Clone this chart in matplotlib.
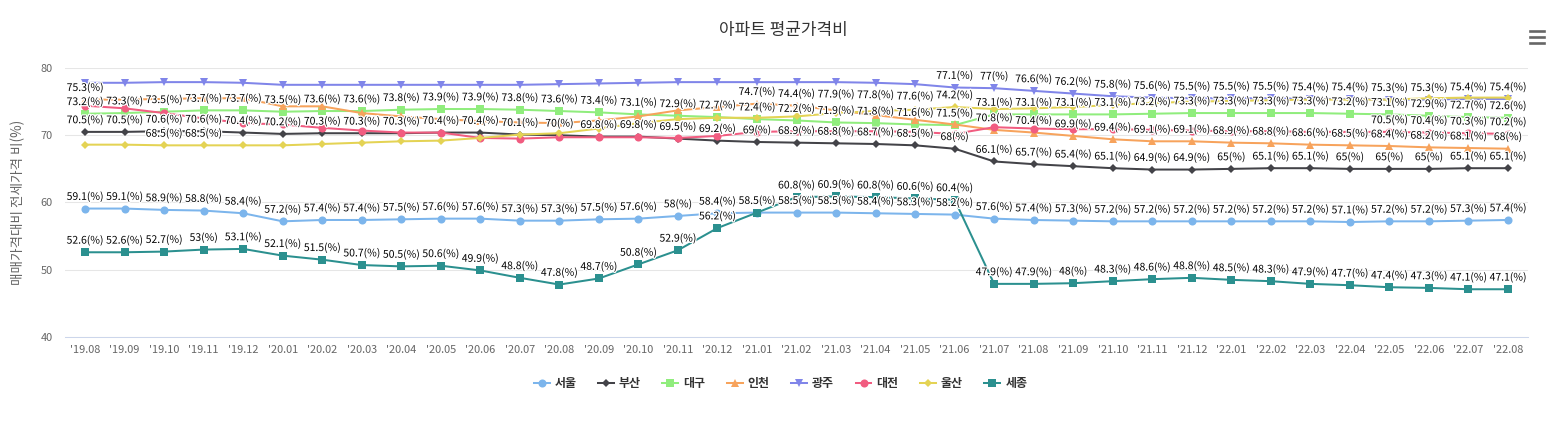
import matplotlib.pyplot as plt
from matplotlib import patheffects
from matplotlib.lines import Line2D

plt.rcParams['font.family'] = ['Noto Sans CJK KR', 'DejaVu Sans']

W, H = 1567, 424

months = ["'19.08", "'19.09", "'19.10", "'19.11", "'19.12",
          "'20.01", "'20.02", "'20.03", "'20.04", "'20.05", "'20.06",
          "'20.07", "'20.08", "'20.09", "'20.10", "'20.11", "'20.12",
          "'21.01", "'21.02", "'21.03", "'21.04", "'21.05", "'21.06",
          "'21.07", "'21.08", "'21.09", "'21.10", "'21.11", "'21.12",
          "'22.01", "'22.02", "'22.03", "'22.04", "'22.05", "'22.06",
          "'22.07", "'22.08"]

seoul = [59.1, 59.1, 58.9, 58.8, 58.4,
         57.2, 57.4, 57.4, 57.5, 57.6, 57.6, 57.3, 57.3, 57.5, 57.6, 58.0, 58.4,
         58.5, 58.5, 58.5, 58.4, 58.3, 58.2, 57.6, 57.4, 57.3, 57.2, 57.2, 57.2,
         57.2, 57.2, 57.2, 57.1, 57.2, 57.2, 57.3, 57.4]
busan = [70.5, 70.5, 70.6, 70.6, 70.4,
         70.2, 70.3, 70.3, 70.3, 70.4, 70.4, 70.1, 70.0, 69.8, 69.8, 69.5, 69.2,
         69.0, 68.9, 68.8, 68.7, 68.5, 68.0, 66.1, 65.7, 65.4, 65.1, 64.9, 64.9,
         65.0, 65.1, 65.1, 65.0, 65.0, 65.0, 65.1, 65.1]
daegu = [73.2, 73.3, 73.5, 73.7, 73.7,
         73.5, 73.6, 73.6, 73.8, 73.9, 73.9, 73.8, 73.6, 73.4, 73.1, 72.9, 72.7,
         72.4, 72.2, 71.9, 71.8, 71.6, 71.5, 73.1, 73.1, 73.1, 73.1, 73.2, 73.3,
         73.3, 73.3, 73.3, 73.2, 73.1, 72.9, 72.7, 72.6]
incheon = [75.3, 75.3, 75.4, 75.5, 75.5,
           74.3, 74.3, 73.3, 72.8, 72.4, 72.1, 71.9, 71.8, 72.2, 72.8, 73.7, 74.2,
           74.7, 74.4, 73.7, 73.0, 72.3, 71.6, 70.8, 70.4, 69.9, 69.4, 69.1, 69.1,
           68.9, 68.8, 68.6, 68.5, 68.4, 68.2, 68.1, 68.0]
gwangju = [77.8, 77.8, 77.9, 77.9, 77.8,
           77.5, 77.5, 77.5, 77.5, 77.5, 77.5, 77.5, 77.6, 77.7, 77.8, 77.9, 77.9,
           77.9, 77.9, 77.9, 77.8, 77.6, 77.1, 77.0, 76.6, 76.2, 75.8, 75.6, 75.5,
           75.5, 75.5, 75.4, 75.4, 75.3, 75.3, 75.4, 75.4]
daejeon = [74.4, 74.0, 73.3, 72.5, 71.8,
           71.6, 71.1, 70.7, 70.4, 70.4, 69.6, 69.5, 69.7, 69.7, 69.7, 69.6, 69.9,
           70.5, 70.6, 70.6, 70.6, 70.5, 70.2, 71.2, 71.0, 70.9, 70.9, 70.8, 70.7,
           70.6, 70.6, 70.5, 70.5, 70.5, 70.4, 70.3, 70.2]
ulsan = [68.6, 68.6, 68.5, 68.5, 68.5,
         68.5, 68.7, 68.9, 69.1, 69.2, 69.6, 70.1, 70.3, 71.0, 71.8, 72.4, 72.6,
         72.6, 72.8, 73.3, 73.6, 73.8, 74.2, 73.9, 74.0, 74.2, 74.5, 74.8, 75.0,
         75.1, 75.2, 75.3, 75.3, 75.3, 75.5, 75.6, 75.6]
sejong = [52.6, 52.6, 52.7, 53.0, 53.1,
          52.1, 51.5, 50.7, 50.5, 50.6, 49.9, 48.8, 47.8, 48.7, 50.8, 52.9, 56.2,
          58.5, 60.8, 60.9, 60.8, 60.6, 60.4, 47.9, 47.9, 48.0, 48.3, 48.6, 48.8,
          48.5, 48.3, 47.9, 47.7, 47.4, 47.3, 47.1, 47.1]

names = ["서울", "부산", "대구", "인천", "광주", "대전", "울산", "세종"]
series = [seoul, busan, daegu, incheon, gwangju, daejeon, ulsan, sejong]
colors = ["#7cb5ec", "#434348", "#90ed7d", "#f7a35c",
          "#8085e9", "#f15c80", "#e4d354", "#2b908f"]
markers = ["o", "D", "s", "^", "v", "o", "D", "s"]
msizes = [5.8, 4.1, 5.8, 5.8, 5.8, 5.8, 4.1, 5.8]

# plot box in pixels (top-left origin)
PLOT_L, PLOT_R, PLOT_T, PLOT_B = 65.25, 1527.75, 68, 337


def fx(px):
    return px / W


def fy(py):
    return 1 - py / H


def label_width(s):
    widths = {".": 2.5, "(": 3.0, ")": 3.0, "%": 8.0}
    return sum(widths.get(ch, 5.0) for ch in s)


fig = plt.figure(figsize=(W / 100, H / 100), dpi=100)
ax = fig.add_axes([fx(PLOT_L), fy(PLOT_B), (PLOT_R - PLOT_L) / W, (PLOT_B - PLOT_T) / H])

xs = list(range(len(months)))
for vals, c, m, ms in zip(series, colors, markers, msizes):
    ax.plot(xs, vals, color=c, lw=1.45, marker=m, ms=ms, mew=0, zorder=3, clip_on=False)

ax.set_xlim(-0.5, len(months) - 0.5)
ax.set_ylim(40, 80)
ax.set_yticks([40, 50, 60, 70, 80])
ax.set_xticks(xs, months)
ax.grid(axis="y", color="#e6e6e6", lw=0.75)
ax.set_axisbelow(True)
for side in ["top", "right", "left"]:
    ax.spines[side].set_visible(False)
ax.spines["bottom"].set_color("#ccd6eb")
ax.spines["bottom"].set_linewidth(0.75)
ax.tick_params(axis="y", length=0, pad=9, labelsize=7.9, labelcolor="#666666")
ax.tick_params(axis="x", length=0, pad=6, labelsize=7.9, labelcolor="#666666")

# ── data labels: above the point, flipped below at the top edge, overlaps hidden ──
outline = [patheffects.withStroke(linewidth=1.8, foreground="white")]
placed = []
for vals in series:
    for i, v in enumerate(vals):
        dx, dy = ax.transData.transform((i, v))
        py = H - dy
        txt = f"{v:g}(%)"
        ly = py - 12
        if ly - 7 < PLOT_T:
            ly = py + 12
        w = label_width(txt)
        if any(abs(dx - ox) < (w + ow) / 2 and abs(ly - oy) < 13.8 for ox, oy, ow in placed):
            continue
        placed.append((dx, ly, w))
        fig.text(fx(dx), fy(ly), txt, ha="center", va="center", fontsize=7.5,
                 color="#000000", path_effects=outline, zorder=5)

# ── title, axis title ──
fig.text(0.5, fy(30), "아파트 평균가격비", ha="center", va="center", fontsize=12.2, color="#333333")
fig.text(fx(18), fy((PLOT_T + PLOT_B) / 2), "매매가격대비 전세가격 비(%)", rotation=90,
         ha="center", va="center", fontsize=9.8, color="#666666")

# ── legend ──
leg_x0, leg_step, leg_y = 533.5, 64.4, 383
for k, (name, c, m, ms) in enumerate(zip(names, colors, markers, msizes)):
    x0 = leg_x0 + k * leg_step
    fig.add_artist(Line2D([fx(x0), fx(x0 + 16)], [fy(leg_y)] * 2, color=c, lw=1.45,
                          transform=fig.transFigure))
    fig.add_artist(Line2D([fx(x0 + 8)], [fy(leg_y)], marker=m, ms=ms, mew=0, color=c,
                          transform=fig.transFigure))
    fig.text(fx(x0 + 21), fy(leg_y), name, ha="left", va="center", fontsize=8.64,
             fontweight="bold", color="#333333")

# ── menu icon ──
for yy in [31, 37, 43]:
    fig.add_artist(Line2D([fx(1530), fx(1544)], [fy(yy)] * 2, color="#666666", lw=1.9,
                          transform=fig.transFigure))

fig.savefig("out.png", dpi=100)
